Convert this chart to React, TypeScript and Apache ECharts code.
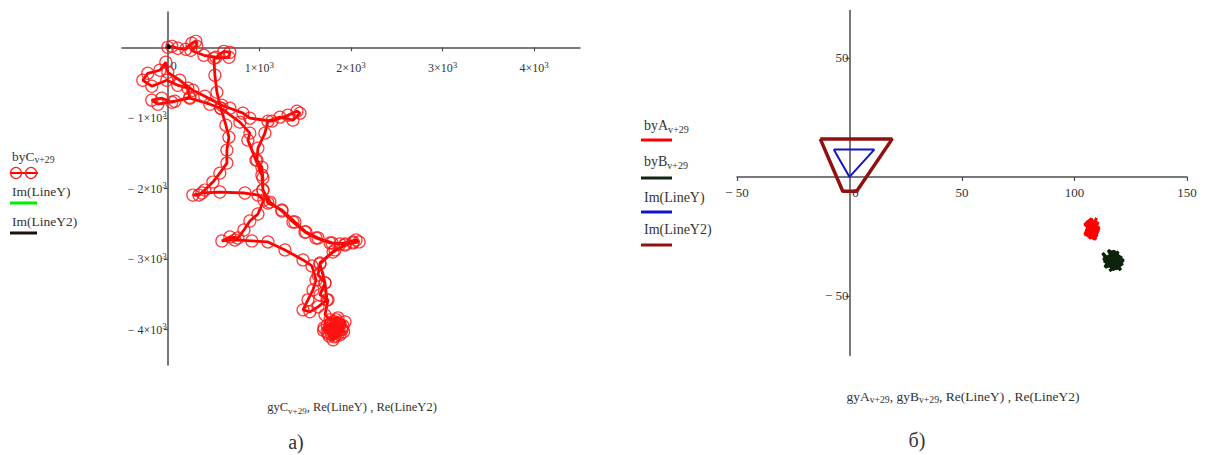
import React, { useEffect, useRef } from 'react';
import * as echarts from 'echarts';

const FONT = '"Liberation Serif", "Times New Roman", serif';
const TXT = '#333333';
const AXIS = '#4d4d4d';

// ---- chart a): trajectory C (gyC = x, byC = y)
const gyC = [
  0, 44, 109, 197, 262, 306, 317, 251, 393, 525, 612, 678, 667, 503,
  514, 536, 579, 634, 667, 645, 645, 568, 492, 404, 339, 273,
  372, 568, 842, 984, 1049,
  984, 896, 831, 765, 678, 590,
  732, 918, 1093, 1279, 1476, 1574,
  1618, 1585, 1530, 1476, 1552, 1640, 1738, 1716, 1661,
  1804, 1935, 2022, 2088, 2055, 1880, 1771, 1618, 1497, 1366, 1246, 1115, 1038,
  1038, 1027, 973, 984, 1060, 1093,
  1224, 1366, 1443, 1410, 1312, 1137, 896, 820, 678, 590, 404, 273, 131, 0, -22,
  -87, -219, -273, -175, -11, 109, 219, 240, 44, -66, -175, -109, 77, 240, 459, 579, 787, 896, 874, 962,
  1027, 1038, 1093, 1246, 1388, 1508, 1640, 1793, 1935, 2022,
  1825, 1661, 1640, 1716, 1661, 1749,
  1716, 1771, 1858, 1935, 1902, 1825, 1749, 1705, 1771, 1858, 1880, 1804, 1738, 1825, 1913, 1836,
  1780, 1850, 1800, 1760, 1870, 1820, 1760, 1900, 1840, 1790, 1830, 1880, 1740, 1810, 1860, 1790,
  1920, 1700, 1850, 1820,
];
const byC = [
  0, 14, -14, -28, 57, 85, 14, -42, -113, -141, -57, -71, -141, -156,
  -396, -636, -863, -1103, -1273, -1456, -1640, -1782, -1909, -2022, -2093, -2093,
  -2064, -2050, -2064, -2093, -2163,
  -2361, -2460, -2588, -2701, -2687, -2743,
  -2729, -2743, -2757, -2870, -3012, -3097,
  -3295, -3436, -3577, -3719, -3747, -3676, -3577, -3337, -3068,
  -2899, -2800, -2771, -2757, -2729, -2786, -2771, -2701, -2616, -2475, -2319, -2192, -2022,
  -1852, -1697, -1598, -1428, -1216, -1046,
  -990, -1032, -933, -905, -962, -1046, -1004, -933, -863, -820, -693, -608, -467, -354, -212,
  -325, -368, -467, -551, -467, -537, -580, -707, -778, -721, -749, -806, -764, -721, -806, -863,
  -1060, -1216, -1315, -1598, -1810, -2022, -2206, -2305, -2475, -2616, -2701, -2771, -2786, -2757,
  -2870, -3054, -3224, -3337, -3507, -3577,
  -3790, -3860, -3832, -3889, -4002, -4087, -4058, -3973, -3931, -3973, -4072, -4143, -4030, -3889, -3945, -4016,
  -3900, -3950, -4020, -3980, -4010, -4100, -4090, -3980, -3860, -3940, -4040, -3920, -3940, -3990, -4060, -4070,
  -4030, -4010, -3900, -3950,
];

// ---- chart б): clusters A and B
const gyA = [107, 108.5, 106, 109.5, 105, 110, 107.5, 104.5, 109, 106.5, 111, 105.5, 108, 110.5, 104.8,
  107.8, 109.8, 106.2, 108.8, 105.2, 110.8, 107.2, 104.6, 109.4, 106.8, 108.2, 105.8, 110.2, 107.6, 106];
const byA = [-21, -18, -24, -20, -22.5, -25, -17.5, -20, -23, -26, -21.5, -18.5, -24.5, -19, -23.5,
  -22, -17.2, -25.5, -20.5, -21.8, -23, -19.5, -24, -26.2, -18, -22.8, -20.8, -24.2, -19.2, -21.5];
const gyB = [116, 118.5, 114, 120, 113, 121.5, 117, 112.5, 119, 115, 121, 113.8, 117.8, 120.5, 114.5,
  116.5, 119.5, 112.8, 118, 115.5, 121.8, 116.8, 113.5, 120.2, 117.5, 114.8, 119.2, 115.8, 118.8, 116.2];
const byB = [-35, -31.5, -37, -33, -35.5, -36.5, -39, -32, -38.5, -30.8, -34, -38, -33.5, -39.2, -33,
  -36, -31.5, -34.5, -37.5, -39.5, -35, -32.5, -37.8, -36.8, -31, -35.8, -38.8, -33.8, -34.8, -36.5];

// triangle LineY and trapezoid LineY2 (Re = x, Im = y)
const reLineY = [-7, 11, 0, -7];
const imLineY = [11.5, 11.5, 0, 11.5];
const reLineY2 = [-13, 19, 3.2, -3, -13];
const imLineY2 = [16, 16, -6, -6, 16];

// axis ranges, ticks, labels
const leftX = [-500, 4500];
const leftY = [-4500, 500];
const rightX = [-50, 150];
const rightY = [-75, 70];
const leftXTicks = [1000, 2000, 3000, 4000];
const leftXLabels = [0, 1000, 2000, 3000, 4000];
const leftYTicks = [-1000, -2000, -3000, -4000];
const rightXTicks = [-50, 50, 100, 150];
const rightXLabels = [-50, 0, 50, 100, 150];
const rightYTicks = [50, -50];

const zip = (xs: number[], ys: number[]) => xs.map((x, i) => [x, ys[i]]);

const minus = (v: number) => (v < 0 ? '− ' : '') + Math.abs(v);
const sci = (v: number) => `{n|${v < 0 ? '− ' : ''}${Math.abs(v) / 1000}×10}{p|3}`;

function makeAxis(grid: number, range: number[], other: number[], span: number, ticks: number[],
  labels: number[], fmt: (v: number) => string, fontSize: number, isX: boolean, margin: number) {
  // move the whole axis (line, ticks, labels) to the zero of the other axis
  const offset = -((0 - other[0]) / (other[1] - other[0])) * span;
  return {
    type: 'value',
    gridIndex: grid,
    min: range[0],
    max: range[1],
    position: isX ? 'bottom' : 'left',
    offset,
    splitLine: { show: false },
    axisLine: { show: true, onZero: false, lineStyle: { color: AXIS, width: 1.5 } },
    axisTick: { show: true, customValues: ticks, length: 4, lineStyle: { color: AXIS, width: 1.2 } },
    axisLabel: {
      customValues: labels,
      formatter: (v: number) => (v === 0 && isX ? '{z|0}' : fmt(v)),
      rich: {
        z: { padding: [0, 0, 0, 12], fontSize, fontFamily: FONT, color: TXT },
        n: { fontSize, fontFamily: FONT, color: TXT },
        p: { fontSize: fontSize * 0.75, fontFamily: FONT, color: TXT, padding: [0, 0, 7, 0] },
      },
      fontFamily: FONT,
      fontSize,
      color: TXT,
      margin,
    },
  };
}

const sub = (a: string, s: string, rest = '') =>
  `{m|${a}}{s|${s}}` + (rest ? `{m|${rest}}` : '');

function richFor(size: number) {
  return {
    m: { fontSize: size, fontFamily: FONT, fill: TXT, color: TXT },
    s: { fontSize: size * 0.72, fontFamily: FONT, fill: TXT, color: TXT, padding: [Math.round(size * 0.55), 0, 0, 0] },
  };
}

function text(x: number, y: number, t: string, size: number, align = 'left') {
  return {
    type: 'text',
    x,
    y,
    style: {
      text: t,
      rich: richFor(size),
      fontSize: size,
      fontFamily: FONT,
      fill: TXT,
      align,
      textAlign: align,
      verticalAlign: 'middle',
      textVerticalAlign: 'middle',
    },
  };
}

function seg(x1: number, x2: number, y: number, color: string, w = 3) {
  return { type: 'line', shape: { x1, y1: y, x2, y2: y }, style: { stroke: color, lineWidth: w } };
}

const graphics: any[] = [
  // left legend
  text(12, 156, sub('byC', 'v+29'), 13.5),
  seg(10, 38, 173, '#ff0000', 2),
  { type: 'circle', shape: { cx: 16, cy: 173, r: 5.5 }, style: { fill: 'none', stroke: '#ff2020', lineWidth: 1.3 } },
  { type: 'circle', shape: { cx: 31, cy: 173, r: 5.5 }, style: { fill: 'none', stroke: '#ff2020', lineWidth: 1.3 } },
  text(12, 191, 'Im(LineY)', 13.5),
  seg(10, 37, 203, '#00ee00'),
  text(12, 221, 'Im(LineY2)', 13.5),
  seg(10, 37, 233, '#1a1010'),
  // right legend
  text(644, 125, sub('byA', 'v+29'), 14),
  seg(641, 672, 140, '#ff0000'),
  text(644, 161, sub('byB', 'v+29'), 14),
  seg(641, 672, 178, '#0e260e'),
  text(644, 197, 'Im(LineY)', 14),
  seg(641, 672, 212, '#1515c8'),
  text(644, 229, 'Im(LineY2)', 14),
  seg(641, 672, 245, '#921010'),
  // axis names and captions
  text(352, 407, sub('gyC', 'v+29', ', Re(LineY) , Re(LineY2)'), 12.5, 'center'),
  text(963, 396, sub('gyA', 'v+29', ', ') + sub('gyB', 'v+29', ', Re(LineY) , Re(LineY2)'), 13.5, 'center'),
  text(296, 442, 'а)', 20, 'center'),
  text(917, 440, 'б)', 20, 'center'),
];

const option: any = {
  animation: false,
  backgroundColor: '#ffffff',
  grid: [
    { left: 122, top: 12, width: 458, height: 353 },
    { left: 737, top: 10.4, width: 450, height: 345 },
  ],
  xAxis: [
    makeAxis(0, leftX, leftY, 353, leftXTicks, leftXLabels, sci, 12, true, 13),
    makeAxis(1, rightX, rightY, 345, rightXTicks, rightXLabels, minus, 13, true, 9),
  ],
  yAxis: [
    makeAxis(0, leftY, leftX, 458, leftYTicks, leftYTicks, sci, 12, false, 1),
    makeAxis(1, rightY, rightX, 450, rightYTicks, rightYTicks, minus, 13, false, 1),
  ],
  graphic: graphics,
  series: [
    {
      name: 'byC',
      type: 'line',
      xAxisIndex: 0,
      yAxisIndex: 0,
      data: zip(gyC, byC),
      symbol: 'circle',
      symbolSize: 12,
      showSymbol: true,
      itemStyle: { color: 'rgba(255,0,0,0)', borderColor: 'rgba(255,20,20,0.85)', borderWidth: 1.2 },
      lineStyle: { color: '#ff0000', width: 2.8 },
      emphasis: { disabled: true },
    },
    {
      name: 'Im(LineY) a',
      type: 'line',
      xAxisIndex: 0,
      yAxisIndex: 0,
      data: zip(reLineY, imLineY),
      showSymbol: false,
      lineStyle: { color: '#00ee00', width: 3 },
    },
    {
      name: 'Im(LineY2) a',
      type: 'line',
      xAxisIndex: 0,
      yAxisIndex: 0,
      data: zip(reLineY2, imLineY2),
      showSymbol: false,
      lineStyle: { color: '#000000', width: 4 },
    },
    {
      name: 'byA',
      type: 'line',
      xAxisIndex: 1,
      yAxisIndex: 1,
      data: zip(gyA, byA),
      showSymbol: false,
      lineStyle: { color: '#ff0000', width: 3 },
    },
    {
      name: 'byB',
      type: 'line',
      xAxisIndex: 1,
      yAxisIndex: 1,
      data: zip(gyB, byB),
      showSymbol: false,
      lineStyle: { color: '#0b230b', width: 3 },
    },
    {
      name: 'Im(LineY)',
      type: 'line',
      xAxisIndex: 1,
      yAxisIndex: 1,
      data: zip(reLineY, imLineY),
      showSymbol: false,
      lineStyle: { color: '#1515c8', width: 2 },
    },
    {
      name: 'Im(LineY2)',
      type: 'line',
      xAxisIndex: 1,
      yAxisIndex: 1,
      data: zip(reLineY2, imLineY2),
      showSymbol: false,
      lineStyle: { color: '#921010', width: 3.5 },
    },
  ],
};

export default function App() {
  const ref = useRef<HTMLDivElement>(null);
  useEffect(() => {
    document.body.style.margin = '0';
    const chart = echarts.init(ref.current as HTMLDivElement, null, { renderer: 'svg' });
    chart.setOption(option);
    return () => chart.dispose();
  }, []);
  return <div ref={ref} style={{ width: 1211, height: 455 }} />;
}
